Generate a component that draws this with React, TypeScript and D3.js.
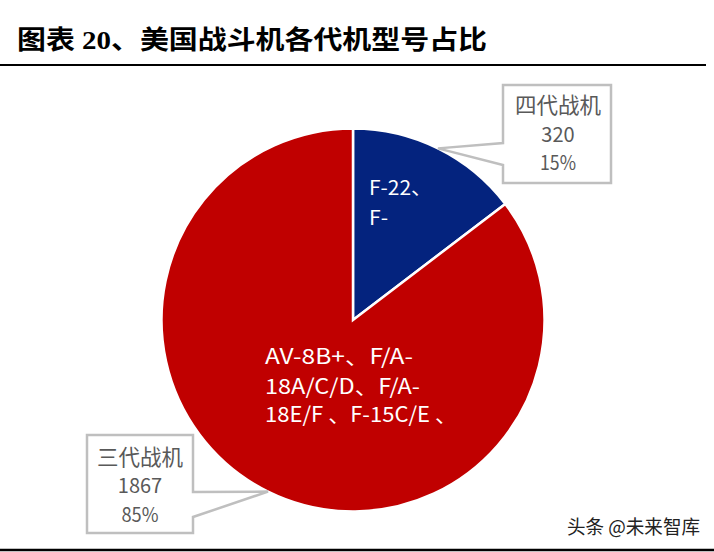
import React from 'react';
import * as d3 from 'd3';

const categories = ['四代战机', '三代战机'];
const values = [320, 1867];
const percents = ['15%', '85%'];
const sliceColors = ['#04237e', '#c00000'];
const modelLines = [
  ['F-22、', 'F-'],
  ['AV-8B+、F/A-', '18A/C/D、F/A-', '18E/F 、F-15C/E 、'],
];

const title = '图表 20、美国战斗机各代机型号占比';
const watermark = '头条 @未来智库';

const width = 714;
const height = 552;
const cx = 353;
const cy = 320;
const radius = 191.5;

const cjk = '"Noto Sans CJK SC", "Noto Sans", sans-serif';
const titleFont = '"Liberation Serif", "Noto Sans CJK SC", serif';

// callout box, pointer attachment on the box edge, text rows
const callouts = [
  { x: 503, y: 85, w: 108, h: 98, side: 'left', p0: 143, p1: 165, tx: 558, rows: [105, 135, 163], pctW: 36 },
  { x: 87, y: 435, w: 106, h: 98, side: 'right', p0: 492, p1: 517, tx: 140, rows: [457, 486, 515], pctW: 37 },
];
// the reference text is stretched sideways, so each row gets its measured width
const modelText = [
  { x: 369, rows: [188, 218], widths: [63, 19], size: 20 },
  { x: 265, rows: [356, 386, 414], widths: [148, 155, 192], size: 21 },
];

const App: React.FC = () => {
  const pie = d3.pie<number>().sort(null).value((d) => d);
  const arcs = pie(values);
  const arc = d3.arc<d3.PieArcDatum<number>>().innerRadius(0).outerRadius(radius);
  const edge = d3.arc<d3.PieArcDatum<number>>().innerRadius(radius).outerRadius(radius);

  return (
    <svg
      width={width}
      height={height}
      viewBox={`0 0 ${width} ${height}`}
      style={{ position: 'absolute', left: 0, top: 0, background: '#fff' }}
    >
      <text x={17} y={40} dy="0.36em" fontFamily={titleFont} fontWeight={700} fontSize={26} fill="#000" textLength={470} lengthAdjust="spacingAndGlyphs">
        {title}
      </text>
      <line x1={0} x2={706} y1={65} y2={65} stroke="#000" strokeWidth={2} />

      <g transform={`translate(${cx},${cy})`}>
        {arcs.map((d, i) => (
          <path key={categories[i]} d={arc(d) ?? ''} fill={sliceColors[i]} stroke="#fff" strokeWidth={2.5} />
        ))}
      </g>

      {modelLines.map((lines, i) =>
        lines.map((line, j) => (
          <text
            key={line}
            x={modelText[i].x}
            y={modelText[i].rows[j]}
            dy="0.36em"
            fontFamily={cjk}
            fontSize={modelText[i].size}
            fill="#fff"
            textLength={modelText[i].widths[j]}
            lengthAdjust="spacingAndGlyphs"
          >
            {line}
          </text>
        ))
      )}

      {callouts.map((c, i) => {
        const [ex, ey] = edge.centroid(arcs[i]);
        const tipX = cx + ex;
        const tipY = cy + ey;
        const d =
          c.side === 'left'
            ? `M${c.x},${c.y}H${c.x + c.w}V${c.y + c.h}H${c.x}V${c.p1}L${tipX},${tipY}L${c.x},${c.p0}Z`
            : `M${c.x},${c.y}H${c.x + c.w}V${c.p0}L${tipX},${tipY}L${c.x + c.w},${c.p1}V${c.y + c.h}H${c.x}Z`;
        const rows = [categories[i], String(values[i]), percents[i]];
        return (
          <g key={categories[i]}>
            <path d={d} fill="#fff" stroke="#bfbfbf" strokeWidth={2.5} />
            {rows.map((t, j) => (
              <text
                key={t}
                x={c.tx}
                y={c.rows[j]}
                dy="0.36em"
                textAnchor="middle"
                fontFamily={cjk}
                fontSize={j === 0 ? 21.5 : 20}
                fill="#595959"
                textLength={j === 2 ? c.pctW : undefined}
                lengthAdjust="spacingAndGlyphs"
              >
                {t}
              </text>
            ))}
          </g>
        );
      })}

      <text x={567} y={527} dy="0.36em" fontFamily={cjk} fontSize={19} fill="#222" textLength={133} lengthAdjust="spacingAndGlyphs">
        {watermark}
      </text>
      <line x1={0} x2={714} y1={550} y2={550} stroke="#000" strokeWidth={2.5} />
    </svg>
  );
};

export default App;
